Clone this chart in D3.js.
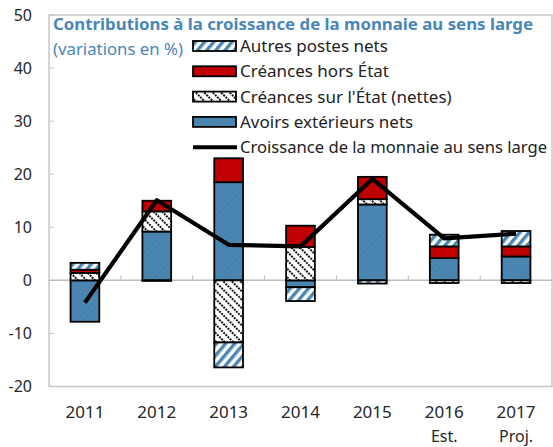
<!DOCTYPE html>
<html>
<head>
<meta charset="utf-8">
<script src="https://d3js.org/d3.v7.min.js"></script>
<style>
  body { margin: 0; background: #fff; }
  text { font-family: "Noto Sans", "Open Sans", sans-serif; }
</style>
</head>
<body>
<script>
// données
var years = ["2011", "2012", "2013", "2014", "2015", "2016", "2017"];
var subLabels = ["", "", "", "", "", "Est.", "Proj."];
var avoirs = [-7.8, 9.2, 18.5, -1.3, 14.3, 4.2, 4.5];
var creancesEtat = [1.4, 3.8, -11.7, 6.3, 1.0, -0.5, -0.5];
var creancesHorsEtat = [0.6, 2.0, 4.5, 4.0, 4.2, 2.2, 1.9];
var autres = [1.3, -0.1, -4.7, -2.6, -0.6, 2.2, 2.9];
var croissance = [-4.2, 15.1, 6.7, 6.4, 19.1, 7.9, 8.8];
var yTicks = [-20, -10, 0, 10, 20, 30, 40, 50];

var W = 553, H = 447;
var blue = "#4a86b0", red = "#c00000", titleBlue = "#4a86b8";

var svg = d3.select("body").append("svg")
    .attr("width", W).attr("height", H);

// motifs
var defs = svg.append("defs");
var pAv = defs.append("pattern").attr("id", "pAvoirs")
    .attr("patternUnits", "userSpaceOnUse").attr("width", 5).attr("height", 5)
    .attr("patternTransform", "rotate(45)");
pAv.append("rect").attr("width", 5).attr("height", 5).attr("fill", blue);
pAv.append("rect").attr("width", 1).attr("height", 5).attr("fill", "#4580aa");

var pEt = defs.append("pattern").attr("id", "pEtat")
    .attr("patternUnits", "userSpaceOnUse").attr("width", 6).attr("height", 6)
    .attr("patternTransform", "rotate(-45)");
pEt.append("rect").attr("width", 6).attr("height", 6).attr("fill", "#fff");
pEt.append("line").attr("x1", 1).attr("x2", 1).attr("y1", 0).attr("y2", 6)
    .attr("stroke", "#000").attr("stroke-width", 1.8).attr("stroke-dasharray", "2,1");

var pAu = defs.append("pattern").attr("id", "pAutres")
    .attr("patternUnits", "userSpaceOnUse").attr("width", 7).attr("height", 7)
    .attr("patternTransform", "rotate(40)");
pAu.append("rect").attr("width", 7).attr("height", 7).attr("fill", "#fff");
pAu.append("rect").attr("width", 3.4).attr("height", 7).attr("fill", blue);

var x = d3.scaleBand().domain(years).range([49, 552]).paddingInner(0.6).paddingOuter(0.3);
var xb = d3.scaleBand().domain(years).range([49, 552]);
var y = d3.scaleLinear().domain([-20, 50]).range([386.5, 15]);

// cadre
svg.append("rect").attr("x", 49).attr("y", 15).attr("width", 503).attr("height", 371.5)
    .attr("fill", "none").attr("stroke", "#c8c8c8").attr("stroke-width", 1.5);

// graduations y
svg.selectAll(".ytick").data(yTicks).enter().append("line")
    .attr("x1", 49).attr("x2", 54).attr("y1", d => y(d)).attr("y2", d => y(d))
    .attr("stroke", "#c8c8c8");
svg.selectAll(".ylab").data(yTicks).enter().append("text")
    .attr("x", 32).attr("y", d => y(d)).attr("dy", "0.35em")
    .attr("text-anchor", "end").attr("font-size", 16).attr("fill", "#262626")
    .text(d => d);

// ligne zéro et graduations x
svg.append("line").attr("x1", 49).attr("x2", 552).attr("y1", y(0)).attr("y2", y(0))
    .attr("stroke", "#bdbdbd").attr("stroke-width", 1.5);
svg.selectAll(".xtick").data(years.slice(1)).enter().append("line")
    .attr("x1", d => xb(d)).attr("x2", d => xb(d))
    .attr("y1", y(0)).attr("y2", y(0) - 5).attr("stroke", "#bdbdbd");

// barres empilées
var keys = ["avoirs", "etat", "horsEtat", "autres"];
var fills = { avoirs: "url(#pAvoirs)", etat: "url(#pEtat)", horsEtat: red, autres: "url(#pAutres)" };
var table = years.map((yr, i) => ({
  year: yr, avoirs: avoirs[i], etat: creancesEtat[i],
  horsEtat: creancesHorsEtat[i], autres: autres[i]
}));
var series = d3.stack().keys(keys).offset(d3.stackOffsetDiverging)(table);

series.forEach(function(s) {
  svg.append("g").selectAll("rect").data(s).enter().append("rect")
      .attr("x", d => x(d.data.year))
      .attr("width", x.bandwidth())
      .attr("y", d => y(Math.max(d[0], d[1])))
      .attr("height", d => Math.abs(y(d[0]) - y(d[1])))
      .attr("fill", fills[s.key])
      .attr("stroke", "#000").attr("stroke-width", 1.8);
});

// ligne croissance
var line = d3.line().x((d, i) => xb(years[i]) + xb.bandwidth() / 2).y(d => y(d));
svg.append("path").datum(croissance).attr("d", line)
    .attr("fill", "none").attr("stroke", "#000").attr("stroke-width", 4.2)
    .attr("stroke-linejoin", "round");

// étiquettes x
svg.selectAll(".xlab").data(years).enter().append("text")
    .attr("x", d => xb(d) + xb.bandwidth() / 2).attr("y", 418)
    .attr("text-anchor", "middle").attr("font-size", 17).attr("fill", "#262626")
    .text(d => d);
svg.selectAll(".xsub").data(subLabels).enter().append("text")
    .attr("x", (d, i) => xb(years[i]) + xb.bandwidth() / 2).attr("y", 442)
    .attr("text-anchor", "middle").attr("font-size", 16).attr("fill", "#262626")
    .text(d => d);

// titre
svg.append("text").attr("x", 53).attr("y", 30)
    .attr("font-size", 16).attr("font-weight", "bold").attr("fill", titleBlue)
    .attr("textLength", 480).attr("lengthAdjust", "spacingAndGlyphs")
    .text("Contributions à la croissance de la monnaie au sens large");
svg.append("text").attr("x", 53).attr("y", 55)
    .attr("font-size", 16.5).attr("fill", titleBlue)
    .attr("textLength", 130).attr("lengthAdjust", "spacingAndGlyphs")
    .text("(variations en %)");

// légende
var legend = [
  { label: "Autres postes nets", fill: "url(#pAutres)" },
  { label: "Créances hors État", fill: red },
  { label: "Créances sur l'État (nettes)", fill: "url(#pEtat)" },
  { label: "Avoirs extérieurs nets", fill: "url(#pAvoirs)" },
  { label: "Croissance de la monnaie au sens large", line: true }
];
var lg = svg.append("g");
legend.forEach(function(l, i) {
  var cy = 46 + i * 25.3;
  if (l.line) {
    lg.append("line").attr("x1", 193).attr("x2", 237).attr("y1", cy).attr("y2", cy)
        .attr("stroke", "#000").attr("stroke-width", 4);
  } else {
    lg.append("rect").attr("x", 193).attr("y", cy - 5).attr("width", 43).attr("height", 10)
        .attr("fill", l.fill).attr("stroke", "#000").attr("stroke-width", 1.8);
  }
  lg.append("text").attr("x", 240).attr("y", cy).attr("dy", "0.35em")
      .attr("font-size", l.line ? 16.6 : 17).attr("fill", "#222").text(l.label);
});
</script>
</body>
</html>
